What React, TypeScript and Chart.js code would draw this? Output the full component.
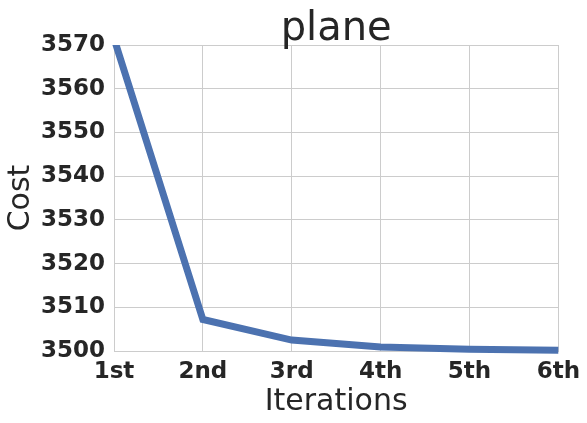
import React, { useEffect, useRef } from "react";
import { Chart, registerables } from "chart.js";

Chart.register(...registerables);

const categories = ["1st", "2nd", "3rd", "4th", "5th", "6th"];
const costValues = [3571.5, 3507.2, 3502.5, 3500.9, 3500.4, 3500.2];
const yTicks = [3500, 3510, 3520, 3530, 3540, 3550, 3560, 3570];
const chartTitle = "plane";

const titlePlugin = {
  id: "centeredTitle",
  afterDraw(chart: any) {
    const { ctx, chartArea } = chart;
    ctx.save();
    ctx.fillStyle = "#262626";
    ctx.font = "normal 40px 'DejaVu Sans'";
    ctx.textAlign = "center";
    ctx.textBaseline = "alphabetic";
    ctx.fillText(chartTitle, (chartArea.left + chartArea.right) / 2, 40);
    ctx.restore();
  },
};

export default function App() {
  const ref = useRef<HTMLCanvasElement | null>(null);
  useEffect(() => {
    if (!ref.current) return;
    const chart = new Chart(ref.current, {
      type: "line",
      data: {
        labels: categories,
        datasets: [
          {
            label: chartTitle,
            data: costValues,
            borderColor: "#4C72B0",
            backgroundColor: "#4C72B0",
            borderWidth: 7,
            pointRadius: 0,
            tension: 0,
            clip: { left: 5, right: 5, top: 0, bottom: 5 } as any,
          },
        ],
      },
      plugins: [titlePlugin],
      options: {
        responsive: false,
        animation: false,
        layout: { padding: { left: 0, right: 28, top: 45, bottom: 0 } },
        plugins: {
          legend: { display: false },
          tooltip: { enabled: false },
          title: { display: false },
        },
        scales: {
          x: {
            type: "category",
            offset: false,
            grid: { color: "#cccccc", drawTicks: false, lineWidth: 1 },
            border: { color: "#cccccc" },
            ticks: {
              color: "#262626",
              padding: 7,
              maxRotation: 0,
              font: { family: "DejaVu Sans", size: 23, weight: "bold" },
            },
            title: {
              display: true,
              text: "Iterations",
              color: "#262626",
              font: { family: "DejaVu Sans", size: 30, weight: "normal", lineHeight: 1.2 },
              padding: { top: 0, bottom: 3 },
            },
            afterFit: (s: any) => {
              s.height = 72;
            },
          },
          y: {
            type: "linear",
            min: 3500,
            max: 3570,
            grid: { color: "#cccccc", drawTicks: false, lineWidth: 1 },
            border: { color: "#cccccc" },
            ticks: {
              color: "#262626",
              padding: 9,
              stepSize: 10,
              font: { family: "DejaVu Sans", size: 23, weight: "bold" },
              callback: (v: any) => (yTicks.includes(Number(v)) ? String(v) : ""),
            },
            title: {
              display: true,
              text: "Cost",
              color: "#262626",
              font: { family: "DejaVu Sans", size: 30, weight: "normal", lineHeight: 1.2 },
              padding: { top: 3, bottom: 0 },
            },
            afterFit: (s: any) => {
              s.width = 114;
            },
          },
        },
      },
    });
    return () => chart.destroy();
  }, []);
  return (
    <div style={{ position: "absolute", left: 0, top: 0, width: 587, height: 423, background: "#fff" }}>
      <canvas ref={ref} width={587} height={423} />
    </div>
  );
}
